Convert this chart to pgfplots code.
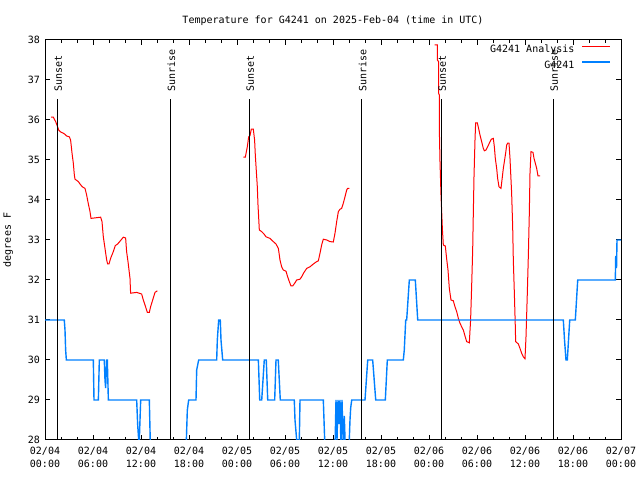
\documentclass[border=0pt]{standalone}
\usepackage{fontspec}
\setmainfont{DejaVu Sans Mono}
\usepackage{pgfplots}
\pgfplotsset{compat=1.18}
\definecolor{obsblue}{RGB}{0,128,255}
\begin{document}
\fontsize{10bp}{13bp}\selectfont
\begin{tikzpicture}
\path (0bp,0bp) rectangle (640bp,480bp);
\begin{axis}[
  at={(45bp,40bp)}, anchor=south west,
  scale only axis, width=576bp, height=400bp,
  xmin=0, xmax=72, ymin=28, ymax=38,
  xtick={0,6,...,72},
  minor x tick num=2,
  xticklabels={{02/04\\00:00},{02/04\\06:00},{02/04\\12:00},{02/04\\18:00},{02/05\\00:00},{02/05\\06:00},{02/05\\12:00},{02/05\\18:00},{02/06\\00:00},{02/06\\06:00},{02/06\\12:00},{02/06\\18:00},{02/07\\00:00}},
  ytick={28,29,...,38},
  yticklabels={28,29,30,31,32,33,34,35,36,37,38},
  xticklabel style={align=center, inner sep=0pt, yshift=-7bp, font=\fontsize{10bp}{13bp}\selectfont},
  yticklabel style={anchor=east, inner sep=0pt, xshift=-5bp, font=\fontsize{10bp}{13bp}\selectfont},
  tick align=inside,
  major tick length=5bp, minor tick length=3bp,
  every tick/.style={black, line width=1bp},
  axis line style={line width=1bp},
  title={Temperature for G4241 on 2025-Feb-04 (time in UTC)},
  title style={at={(axis description cs:0.5,1.05)}, anchor=center, yshift=-7bp, inner sep=0pt, font=\fontsize{10bp}{13bp}\selectfont},
  ylabel={degrees F},
  ylabel style={at={(axis description cs:-0.064,0.5)}, anchor=center, inner sep=0pt, font=\fontsize{10bp}{13bp}\selectfont},
  legend style={at={(axis description cs:1,1)}, anchor=north east, xshift=-7bp, yshift=-2bp, draw=none, fill=none, font=\fontsize{10bp}{13bp}\selectfont, nodes={inner sep=0pt, text height=8bp, text depth=2bp}, row sep=6bp, column sep=7bp},
  legend cell align=right,
  legend plot pos=right,
  legend image code/.code={\draw[#1] (0bp,3bp) -- (28bp,3bp);},
  unbounded coords=jump,
]
% analysis
\addplot[red, line width=1bp] coordinates {
(0.75,36.07)(1.04,36.07)(1.33,35.96)(1.54,35.85)(1.71,35.75)(1.96,35.7)(2.29,35.67)(2.5,35.64)(2.71,35.6)(3.04,35.58)(3.2,35.5)(3.38,35.17)(3.54,34.92)(3.67,34.62)(3.75,34.52)(4.17,34.46)(4.375,34.4)(4.67,34.33)(5.0,34.29)(5.2,34.13)(5.4,33.92)(5.625,33.71)(5.75,33.54)(6.96,33.57)(7.125,33.46)(7.29,33.08)(7.5,32.79)(7.71,32.5)(7.83,32.4)(8.0,32.4)(8.2,32.54)(8.54,32.71)(8.79,32.86)(9.08,32.9)(9.375,32.97)(9.625,33.03)(9.79,33.07)(10.08,33.05)(10.2,32.71)(10.375,32.46)(10.5,32.25)(10.625,32.04)(10.7,31.67)(11.46,31.69)(12.08,31.65)(12.29,31.5)(12.5,31.375)(12.7,31.25)(12.8,31.19)(13.04,31.19)(13.2,31.33)(13.46,31.5)(13.75,31.69)(14.04,31.73)
(14.5,nan)
(24.79,35.07)(25.04,35.07)(25.29,35.33)(25.46,35.58)(25.625,35.61)(25.79,35.77)(26.04,35.77)(26.2,35.5)(26.29,35.12)(26.42,34.71)(26.54,34.33)(26.625,33.875)(26.79,33.25)(27.08,33.21)(27.375,33.15)(27.625,33.08)(28.125,33.04)(28.54,32.96)(28.875,32.9)(29.17,32.79)(29.375,32.5)(29.58,32.33)(29.79,32.25)(30.125,32.22)(30.33,32.08)(30.54,31.96)(30.75,31.85)(30.96,31.85)(31.25,31.93)(31.46,32.0)(31.875,32.02)(32.08,32.08)(32.375,32.19)(32.71,32.29)(33.125,32.33)(33.54,32.4)(33.96,32.46)(34.17,32.48)(34.375,32.67)(34.58,32.875)(34.79,33.02)(35.21,33.0)(35.625,32.96)(36.04,32.95)(36.25,33.17)(36.46,33.46)(36.67,33.71)(36.875,33.77)(37.08,33.79)(37.29,33.92)(37.5,34.08)(37.71,34.25)(37.83,34.29)(38.04,34.29)
(40,nan)
(48.71,37.875)(49.04,37.875)(49.04,37.5)(49.2,37.46)(49.2,36.67)(49.29,36.625)(49.29,35.79)(49.375,34.96)(49.5,34.125)(49.67,33.29)(49.79,32.875)(50.04,32.85)(50.2,32.54)(50.375,32.25)(50.54,31.79)(50.75,31.5)(51.04,31.48)(51.25,31.33)(51.46,31.21)(51.67,31.04)(51.875,30.92)(52.08,30.83)(52.29,30.75)(52.5,30.6)(52.71,30.46)(53.04,30.43)(53.2,31.0)(53.33,31.83)(53.46,32.75)(53.54,33.67)(53.625,34.58)(53.75,35.5)(53.83,35.93)(54.04,35.93)(54.2,35.79)(54.375,35.625)(54.58,35.46)(54.79,35.29)(54.92,35.23)(55.125,35.25)(55.33,35.33)(55.54,35.42)(55.79,35.52)(56.04,35.54)(56.17,35.33)(56.29,35.04)(56.46,34.79)(56.58,34.54)(56.75,34.33)(57.0,34.29)(57.17,34.58)(57.29,34.79)(57.42,34.96)(57.58,35.17)(57.71,35.375)(57.83,35.42)(58.0,35.42)(58.125,35.04)(58.33,34.17)(58.46,33.33)(58.54,32.5)(58.67,31.67)(58.79,30.83)(58.83,30.46)(59.17,30.4)(59.375,30.29)(59.58,30.17)(59.79,30.08)(60.0,30.03)(60.125,30.58)(60.29,31.67)(60.42,32.625)(60.54,33.67)(60.625,34.67)(60.75,35.21)(61.0,35.19)(61.125,35.04)(61.29,34.92)(61.46,34.79)(61.625,34.6)(61.875,34.6)
};
\addlegendentry{G4241 Analysis}
% observations
\addplot[obsblue, line width=1.4bp] coordinates {
(0,31)(2.41,31)(2.5,30.75)(2.58,30.25)(2.67,30)(6.04,30)(6.125,29)(6.67,29)(6.79,30)(7.41,30)(7.5,29.5)(7.58,29.3)(7.71,30)(7.79,30)(7.92,29)(11.46,29)(11.58,28.4)(11.71,28)(11.79,28)(11.96,29)(13.04,29)(13.21,27.5)(17.6,27.5)(17.67,28)(17.79,28.75)(17.96,29)(18.875,29)(18.96,29.75)(19.21,30)(21.46,30)(21.54,30.5)(21.71,31)(21.91,31)(22.0,30.5)(22.21,30)(26.67,30)(26.84,29)(27.09,29)(27.41,30)(27.66,30)(27.84,29)(28.71,29)(28.875,30)(29.16,30)(29.41,29)(31.16,29)(31.25,28.5)(31.46,28)(31.79,28)(31.875,29)(34.79,29)(34.875,28.5)(34.96,28)(35.09,27.5)(36.2,27.5)(36.25,27.8)(36.375,29)(36.5,28)(36.625,29)(36.75,28.4)(36.875,29)(37.0,27.8)(37.125,29)(37.29,27.8)(37.41,28.6)(37.54,27.8)(38.0,27.8)(38.125,28.5)(38.21,28.8)(38.34,29)(40.0,29)(40.34,30)(40.96,30)(41.34,29)(42.54,29)(42.79,30)(44.79,30)(44.91,30.25)(45.09,31)(45.21,31)(45.54,32)(46.29,32)(46.59,31)(64.79,31)(64.94,30.5)(65.125,30)(65.29,30)(65.59,31)(66.29,31)(66.59,32)(71.29,32)(71.34,32.6)(71.44,32.3)(71.5,33)(72,33)
};
\addlegendentry{G4241}
% sunset / sunrise markers
\addplot[black, line width=1bp, forget plot] coordinates {(1.5,28) (1.5,36.525)};
\addplot[black, line width=1bp, forget plot] coordinates {(15.65,28) (15.65,36.525)};
\addplot[black, line width=1bp, forget plot] coordinates {(25.5,28) (25.5,36.525)};
\addplot[black, line width=1bp, forget plot] coordinates {(39.55,28) (39.55,36.525)};
\addplot[black, line width=1bp, forget plot] coordinates {(49.5,28) (49.5,36.525)};
\addplot[black, line width=1bp, forget plot] coordinates {(63.5,28) (63.5,36.525)};
\node[rotate=90, anchor=west, inner sep=0pt] at (axis cs:1.65,36.7) {Sunset};
\node[rotate=90, anchor=west, inner sep=0pt] at (axis cs:15.8,36.7) {Sunrise};
\node[rotate=90, anchor=west, inner sep=0pt] at (axis cs:25.65,36.7) {Sunset};
\node[rotate=90, anchor=west, inner sep=0pt] at (axis cs:39.7,36.7) {Sunrise};
\node[rotate=90, anchor=west, inner sep=0pt] at (axis cs:49.65,36.7) {Sunset};
\node[rotate=90, anchor=west, inner sep=0pt] at (axis cs:63.65,36.7) {Sunrise};
\end{axis}
\end{tikzpicture}
\end{document}
